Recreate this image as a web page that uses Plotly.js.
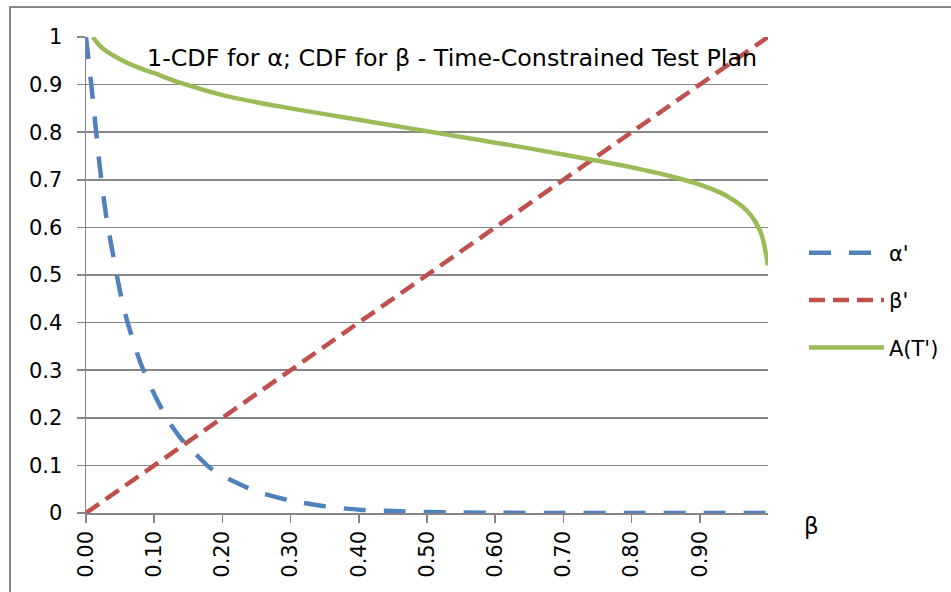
<!DOCTYPE html>
<html>
<head>
<meta charset="utf-8">
<script src="https://cdn.plot.ly/plotly-3.0.1.min.js"></script>
<style>
html,body{margin:0;padding:0;background:#fff;}
#chart{width:951px;height:592px;}
</style>
</head>
<body>
<div id="chart"></div>
<script>
// α' (1-CDF for α)
var alphaBeta = [0, 0.01, 0.02, 0.03, 0.04, 0.05, 0.06, 0.08, 0.10, 0.12, 0.14, 0.16, 0.18, 0.20, 0.25, 0.30, 0.35, 0.40, 0.45, 0.50, 0.55, 0.60, 0.70, 0.80, 0.90, 1.00];
var alphaVals = [1.0, 0.87, 0.73, 0.62, 0.54, 0.465, 0.405, 0.315, 0.25, 0.195, 0.155, 0.125, 0.097, 0.078, 0.045, 0.026, 0.014, 0.007, 0.004, 0.002, 0.001, 0.0005, 0, 0, 0, 0];
// β' (CDF for β)
var betaPrimeX = [0, 0.1, 0.2, 0.3, 0.4, 0.5, 0.6, 0.7, 0.8, 0.9, 1.0];
var betaPrimeY = [0, 0.1, 0.2, 0.3, 0.4, 0.5, 0.6, 0.7, 0.8, 0.9, 1.0];
// A(T')
var aBeta = [0.01, 0.02, 0.03, 0.04, 0.06, 0.08, 0.10, 0.14, 0.20, 0.25, 0.30, 0.35, 0.40, 0.45, 0.50, 0.55, 0.60, 0.65, 0.70, 0.75, 0.80, 0.85, 0.90, 0.93, 0.95, 0.97, 0.98, 0.99, 1.00];
var aVals = [1.0, 0.982, 0.970, 0.961, 0.946, 0.934, 0.924, 0.903, 0.878, 0.863, 0.850, 0.838, 0.826, 0.814, 0.802, 0.790, 0.778, 0.766, 0.753, 0.740, 0.726, 0.710, 0.690, 0.673, 0.657, 0.634, 0.615, 0.587, 0.52];

var xTickVals = [0, 0.1, 0.2, 0.3, 0.4, 0.5, 0.6, 0.7, 0.8, 0.9];
var xTickText = ['0.00', '0.10', '0.20', '0.30', '0.40', '0.50', '0.60', '0.70', '0.80', '0.90'];
var yTickVals = [0, 0.1, 0.2, 0.3, 0.4, 0.5, 0.6, 0.7, 0.8, 0.9, 1];
var yTickText = ['0', '0.1', '0.2', '0.3', '0.4', '0.5', '0.6', '0.7', '0.8', '0.9', '1'];

var chartTitle = "1-CDF for α; CDF for β - Time-Constrained Test Plan";
var xAxisLabel = "β";

var FONT = "DejaVu Sans, Arial, sans-serif";
var GRID = "#868686";

var traces = [
  {x: alphaBeta, y: alphaVals, name: "α'", type: 'scatter', mode: 'lines', legendgroup: 'a',
   line: {color: '#4F81BD', width: 4.5, dash: '22px,18px', shape: 'spline', smoothing: 0.6}},
  {x: betaPrimeX, y: betaPrimeY, name: "β'", type: 'scatter', mode: 'lines', legendgroup: 'b',
   line: {color: '#C0504D', width: 4.5, dash: '16px,8px'}},
  {x: aBeta, y: aVals, name: "A(T')", type: 'scatter', mode: 'lines', legendgroup: 'c',
   line: {color: '#9BBB59', width: 4.5, shape: 'spline', smoothing: 1}}
];

var layout = {
  width: 951, height: 592,
  margin: {l: 86, r: 183, t: 37, b: 79},
  paper_bgcolor: '#ffffff', plot_bgcolor: '#ffffff',
  font: {family: FONT, size: 21, color: '#000'},
  showlegend: true,
  legend: {xref: 'container', yref: 'container', x: 0.8454, xanchor: 'left', y: 0.493, yanchor: 'middle',
           tracegroupgap: 17, font: {family: FONT, size: 21, color: '#000'}, itemwidth: 75,
           bgcolor: 'rgba(0,0,0,0)'},
  xaxis: {range: [0, 1], tickmode: 'array', tickvals: xTickVals, ticktext: xTickText, tickangle: -90,
          showgrid: false, zeroline: false, showline: true, linecolor: GRID, linewidth: 1.5,
          ticks: 'outside', ticklen: 8, tickcolor: GRID, tickwidth: 1.5, automargin: false,
          tickfont: {family: FONT, size: 21, color: '#000'}, fixedrange: true},
  yaxis: {range: [0, 1], tickmode: 'array', tickvals: yTickVals, ticktext: yTickText,
          showgrid: true, gridcolor: GRID, gridwidth: 1.5, zeroline: false,
          showline: true, linecolor: GRID, linewidth: 1.5, automargin: false,
          ticks: 'outside', ticklen: 8, tickcolor: GRID, tickwidth: 1.5, ticklabelstandoff: 10,
          tickfont: {family: FONT, size: 21, color: '#000'}, fixedrange: true},
  annotations: [
    {text: chartTitle, xref: 'paper', yref: 'paper', x: 0.537, y: 0.956, xanchor: 'center', yanchor: 'middle',
     showarrow: false, font: {family: FONT, size: 23.8, color: '#000'}},
    {text: xAxisLabel, xref: 'paper', yref: 'paper', x: 1.064, y: -0.028, xanchor: 'center', yanchor: 'middle',
     showarrow: false, font: {family: FONT, size: 23, color: '#000'}}
  ],
  shapes: [
    {type: 'rect', xref: 'paper', yref: 'paper', x0: -0.1114, y0: -1, x1: 2, y1: 1.063,
     line: {color: GRID, width: 2}, fillcolor: 'rgba(0,0,0,0)', layer: 'below'}
  ]
};

Plotly.newPlot('chart', traces, layout, {staticPlot: true, displayModeBar: false});
</script>
</body>
</html>
